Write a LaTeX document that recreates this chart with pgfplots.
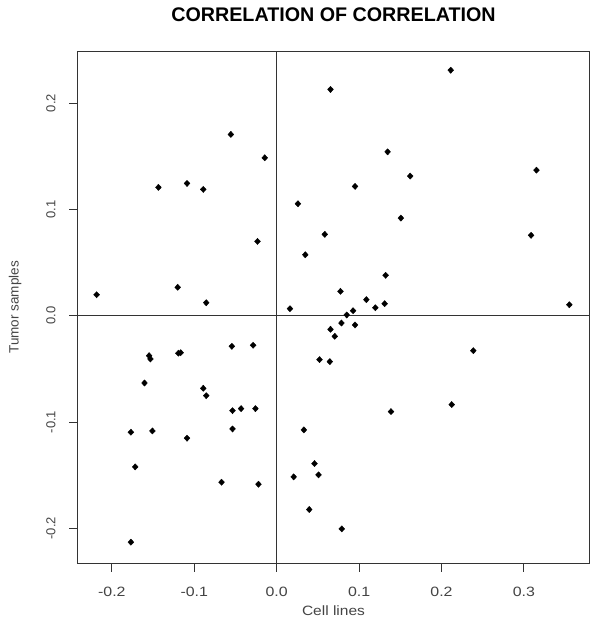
\documentclass[border=0pt]{standalone}
\usepackage{fontspec}
\setmainfont{Liberation Sans}
\usepackage{pgfplots}
\pgfplotsset{compat=1.18}

\definecolor{axisgray}{HTML}{333333}
\definecolor{labelgray}{HTML}{444444}

\begin{document}
\begin{tikzpicture}
\path[use as bounding box] (0,0) rectangle (600pt,620pt);
\begin{axis}[
    at={(77.5pt,57pt)}, anchor=south west,
    scale only axis,
    width=512pt, height=511.5pt,
    xmin=-0.2417, xmax=0.3796,
    ymin=-0.2326, ymax=0.2485,
    axis line style={axisgray, line width=0.9pt},
    tick pos=left,
    tick align=outside,
    major tick length=8.5pt,
    every tick/.style={axisgray, line width=0.9pt},
    xtick={-0.2,-0.1,0,0.1,0.2,0.3},
    xticklabels={{-0.2},{-0.1},{0.0},{0.1},{0.2},{0.3}},
    ytick={-0.2,-0.1,0,0.1,0.2},
    yticklabels={{-0.2},{-0.1},{0.0},{0.1},{0.2}},
    ticklabel style={text=labelgray},
    xticklabel style={font=\fontsize{13.5}{15}\selectfont, yshift=-12pt, xscale=1.18},
    yticklabel style={font=\fontsize{13}{15}\selectfont, xshift=-10pt, rotate=90, anchor=south},
    xlabel={Cell lines},
    ylabel={Tumor samples},
    label style={text=labelgray},
    xlabel style={font=\fontsize{13.5}{16}\selectfont, xscale=1.15,
        at={(axis description cs:0.5,-0.0938)}, anchor=center},
    ylabel style={font=\fontsize{13.5}{16}\selectfont,
        at={(axis description cs:-0.122,0.5)}, anchor=center},
    title={CORRELATION OF CORRELATION},
    title style={at={(axis description cs:0.5,1.0597)}, anchor=center,
        font=\fontsize{19.7}{22}\bfseries},
    clip=false,
]
\draw[axisgray, line width=0.9pt] (axis cs:0,-0.2326) -- (axis cs:0,0.2485);
\draw[axisgray, line width=0.9pt] (axis cs:-0.2417,0) -- (axis cs:0.3796,0);
\addplot[only marks, mark=diamond*, mark size=3.1pt, black,
    mark options={xscale=1.25}] coordinates {
    (-0.0556, 0.1705) (-0.0145, 0.1485) (-0.1435, 0.1207) (-0.1088, 0.1244)
    (-0.0891, 0.1188) (-0.0233, 0.0699) (-0.2185, 0.0197) (-0.1201, 0.0267)
    (-0.0855, 0.0122)
    (0.2112, 0.2309) (0.0653, 0.2128) (0.1346, 0.1541) (0.3152, 0.1369)
    (0.1620, 0.1313) (0.0951, 0.1216) (0.0258, 0.1053) (0.1507, 0.0918)
    (0.0584, 0.0765) (0.3087, 0.0756) (0.0347, 0.0573) (0.1322, 0.0380)
    (0.0774, 0.0229) (0.1088, 0.0151) (0.0161, 0.0066) (0.1197, 0.0075)
    (0.1310, 0.0113) (0.0927, 0.0047) (0.0850, 0.0007) (0.3551, 0.0103)
    (0.0786, -0.0069) (0.0951, -0.0087) (0.0653, -0.0128) (0.0705, -0.0194)
    (0.0520, -0.0413) (0.0645, -0.0432) (0.2386, -0.0329) (0.2124, -0.0836)
    (0.1387, -0.0902) (0.0330, -0.1074) (0.0459, -0.1391) (0.0508, -0.1497)
    (0.0206, -0.1516) (0.0395, -0.1823) (0.0790, -0.2005)
    (-0.0544, -0.0288) (-0.0286, -0.0278) (-0.1548, -0.0376) (-0.1532, -0.0407)
    (-0.1193, -0.0353) (-0.1165, -0.0348) (-0.1604, -0.0633) (-0.0891, -0.0683)
    (-0.0855, -0.0752) (-0.0536, -0.0893) (-0.0432, -0.0874) (-0.0258, -0.0874)
    (-0.0536, -0.1065) (-0.1769, -0.1096) (-0.1508, -0.1084) (-0.1088, -0.1152)
    (-0.1717, -0.1422) (-0.0669, -0.1566) (-0.0221, -0.1585) (-0.1769, -0.2130)
};
\end{axis}
\end{tikzpicture}
\end{document}
